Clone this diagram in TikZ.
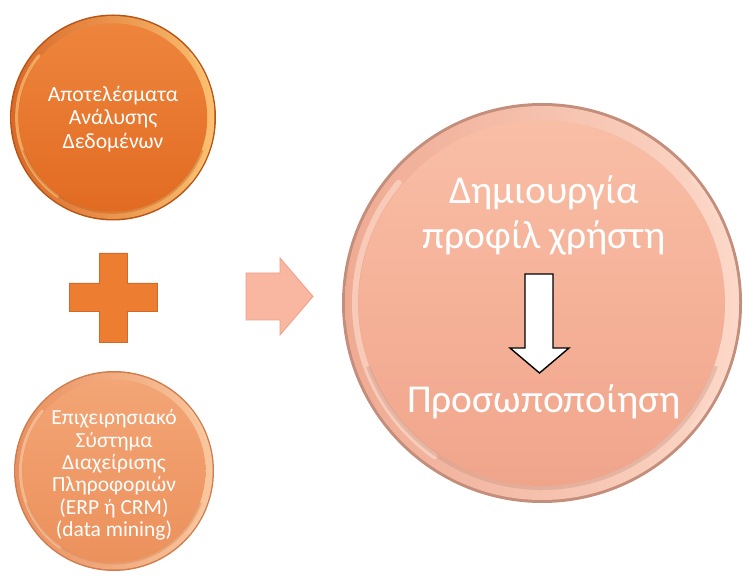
\documentclass[tikz,border=0pt]{standalone}
\usepackage{fontspec}
\setmainfont{Carlito}

\definecolor{deepEdge}{HTML}{B85516}
\definecolor{deepRim}{HTML}{D9692A}
\definecolor{deepGlint}{HTML}{FBC070}
\definecolor{deepTop}{HTML}{EE853D}
\definecolor{deepBot}{HTML}{E26B22}

\definecolor{midEdge}{HTML}{CF7D4E}
\definecolor{midRim}{HTML}{E99060}
\definecolor{midGlint}{HTML}{FAC79E}
\definecolor{midTop}{HTML}{F3A575}
\definecolor{midBot}{HTML}{EC915C}

\definecolor{paleEdge}{HTML}{C48E7C}
\definecolor{paleRim}{HTML}{EFAA92}
\definecolor{paleGlint}{HTML}{FCD8C8}
\definecolor{paleTop}{HTML}{F9BEA6}
\definecolor{paleBot}{HTML}{F0A58B}

\definecolor{plusFill}{HTML}{ED7D31}
\definecolor{plusLine}{HTML}{D06A28}
\definecolor{pointFill}{HTML}{F9B6A0}
\definecolor{pointLine}{HTML}{EFA088}

% A glossy round button: dark edge, shaded rim, face and a soft glint
\newcommand{\discbutton}[7]{%
  \fill[#3] (#1) circle (#2);
  \shade[left color=#4, right color=#7] (#1) circle ({#2*0.985});
  \shade[top color=#5, bottom color=#6] (#1) circle ({#2*0.915});
  \draw[#7, opacity=0.7, line width={#2*0.03}, line cap=round]
    ([shift={(140:{#2*0.935})}]#1) arc (140:235:{#2*0.935});
  \draw[#7, opacity=0.9, line width={#2*0.02}, line cap=round]
    ([shift={(-40:{#2*0.975})}]#1) arc (-40:40:{#2*0.975});
  \draw[#3, opacity=0.35, line width={#2*0.02}]
    ([shift={(200:{#2*0.925})}]#1) arc (200:340:{#2*0.925});
}

\tikzset{
  whitetext/.style={text=white, align=center, inner sep=0pt},
}

\begin{document}
\begin{tikzpicture}[x=1pt,y=1pt]
\useasboundingbox (0,0) rectangle (743,575);

\coordinate (dataC) at (113,457.5);
\coordinate (erpC) at (114,104);
\coordinate (mainC) at (542,272);

% the three buttons
\discbutton{dataC}{103}{deepEdge}{deepRim}{deepTop}{deepBot}{deepGlint}
\discbutton{erpC}{100}{midEdge}{midRim}{midTop}{midBot}{midGlint}
\discbutton{mainC}{200}{paleEdge}{paleRim}{paleTop}{paleBot}{paleGlint}

% plus sign between the two inputs
\filldraw[fill=plusFill, draw=plusLine, line width=0.8pt]
  (99,322) -- (127,322) -- (127,292) -- (157,292) -- (157,264) -- (127,264)
  -- (127,233) -- (99,233) -- (99,264) -- (69,264) -- (69,292) -- (99,292) -- cycle;

% block arrow towards the result
\filldraw[fill=pointFill, draw=pointLine, line width=0.8pt]
  (246,302) -- (280,302) -- (280,317) -- (313,278.5) -- (280,240) -- (280,255)
  -- (246,255) -- cycle;

% texts
\node[whitetext, font=\fontsize{21.7}{23.5}\selectfont] (data) at (113,456)
  {Αποτελέσματα\\Ανάλυσης\\Δεδομένων};
\node[whitetext, font=\fontsize{21.5}{22.4}\selectfont] (erp) at (114,100)
  {Επιχειρησιακό\\Σύστημα\\Διαχείρισης\\Πληροφοριών\\(ERP ή CRM)\\(data mining)};
\node[whitetext, font=\fontsize{39.5}{45}\selectfont] (profile) at (544,360)
  {Δημιουργία\\προφίλ χρήστη};
\node[whitetext, font=\fontsize{39.5}{45}\selectfont, anchor=base] (personal) at (544,162)
  {Προσωποποίηση};

% white down arrow inside the main button
\filldraw[fill=white, draw=black, line width=1.4pt, line join=miter]
  (525,301) -- (553,301) -- (553,227) -- (569,227) -- (539.5,202) -- (510,227)
  -- (525,227) -- cycle;
\end{tikzpicture}
\end{document}
